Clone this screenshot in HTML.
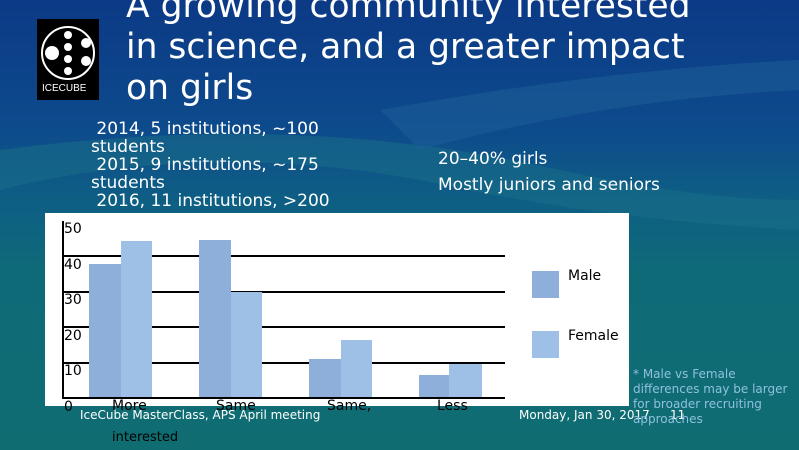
<!DOCTYPE html>
<html><head><meta charset="utf-8"><style>
body{margin:0;width:799px;height:450px;overflow:hidden;position:relative;font-family:"DejaVu Sans","Liberation Sans",sans-serif;
background:linear-gradient(180deg,#0c3a86 0%,#0d4a8c 28%,#0e5f84 45%,#0f6a78 60%,#0f6d72 100%);}
.t{position:absolute;color:#fff;white-space:nowrap}
.g{position:absolute;background:#000;height:2px;left:62px;width:443px}
.b{position:absolute}
.m{background:#8eafd9}.f{background:#9fc0e6}
.y{position:absolute;font-size:14px;color:#000;left:64px}
</style></head><body>
<svg style="position:absolute;left:0;top:0" width="799" height="450">
<path d="M0 150 Q300 110 560 170 Q700 200 799 200 L799 230 Q600 220 420 180 Q200 140 0 190Z" fill="#1a7088" opacity="0.5"/>
<path d="M380 110 Q600 70 799 60 L799 90 Q600 100 420 150Z" fill="#1d5f98" opacity="0.5"/>
</svg>
<div style="position:absolute;left:37px;top:19px;width:62px;height:81px;background:#000"></div>
<svg style="position:absolute;left:40px;top:25px" width="56" height="70">
<circle cx="28" cy="28" r="26" fill="none" stroke="#fff" stroke-width="2"/>
<circle cx="12" cy="28" r="7" fill="#fff"/><circle cx="28" cy="10" r="4" fill="#fff"/><circle cx="28" cy="22" r="4" fill="#fff"/><circle cx="28" cy="34" r="4" fill="#fff"/><circle cx="28" cy="46" r="4" fill="#fff"/><circle cx="46" cy="18" r="5" fill="#fff"/><circle cx="46" cy="36" r="5" fill="#fff"/>
<text x="2" y="66" fill="#fff" font-size="10" font-family="Liberation Sans">ICECUBE</text></svg>
<div class="t" style="left:126px;top:-14px;font-size:34.5px;line-height:41px">A growing community interested<br>in science, and a greater impact<br>on girls</div>
<div class="t" style="left:91px;top:120px;font-size:17px;line-height:18px">&nbsp;2014, 5 institutions, ~100<br>students<br>&nbsp;2015, 9 institutions, ~175<br>students<br>&nbsp;2016, 11 institutions, &gt;200</div>
<div class="t" style="left:438px;top:146px;font-size:17px;line-height:26px">20–40% girls<br>Mostly juniors and seniors</div>
<div style="position:absolute;left:45px;top:213px;width:584px;height:193px;background:#fff"></div>
<div style="position:absolute;left:62px;top:221px;width:2px;height:178px;background:#000"></div>
<div class="g" style="top:255px"></div><div class="g" style="top:291px"></div><div class="g" style="top:326px"></div><div class="g" style="top:362px"></div><div class="g" style="top:397px"></div>
<div class="b m" style="left:89px;top:264px;width:32px;height:133px"></div><div class="b f" style="left:121px;top:241px;width:31px;height:156px"></div>
<div class="b m" style="left:199px;top:240px;width:32px;height:157px"></div><div class="b f" style="left:231px;top:292px;width:31px;height:105px"></div>
<div class="b m" style="left:309px;top:359px;width:32px;height:38px"></div><div class="b f" style="left:341px;top:340px;width:31px;height:57px"></div>
<div class="b m" style="left:419px;top:375px;width:30px;height:22px"></div><div class="b f" style="left:449px;top:364px;width:33px;height:33px"></div>
<div class="y" style="top:221px">50</div><div class="y" style="top:257px">40</div><div class="y" style="top:292px">30</div><div class="y" style="top:328px">20</div><div class="y" style="top:363px">10</div><div class="y" style="top:399px">0</div>
<div class="b m" style="left:532px;top:271px;width:27px;height:27px"></div><div class="b f" style="left:532px;top:331px;width:27px;height:27px"></div>
<div class="t" style="left:568px;top:268px;font-size:14px;color:#000">Male</div>
<div class="t" style="left:568px;top:328px;font-size:14px;color:#000">Female</div>
<div class="t" style="left:112px;top:398px;font-size:14px;color:#000">More</div>
<div class="t" style="left:216px;top:398px;font-size:14px;color:#000">Same</div>
<div class="t" style="left:327px;top:398px;font-size:14px;color:#000">Same,</div>
<div class="t" style="left:437px;top:398px;font-size:14px;color:#000">Less</div>
<div class="t" style="left:80px;top:408px;font-size:12px">IceCube MasterClass, APS April meeting</div>
<div class="t" style="left:519px;top:408px;font-size:12px">Monday, Jan 30, 2017</div>
<div class="t" style="left:670px;top:408px;font-size:12px">11</div>
<div class="t" style="left:112px;top:430px;font-size:13px;color:#000">interested</div>
<div class="t" style="left:633px;top:367px;font-size:12px;line-height:15px;color:#8fc0e0">* Male vs Female<br>differences may be larger<br>for broader recruiting<br>approaches</div>
</body></html>
